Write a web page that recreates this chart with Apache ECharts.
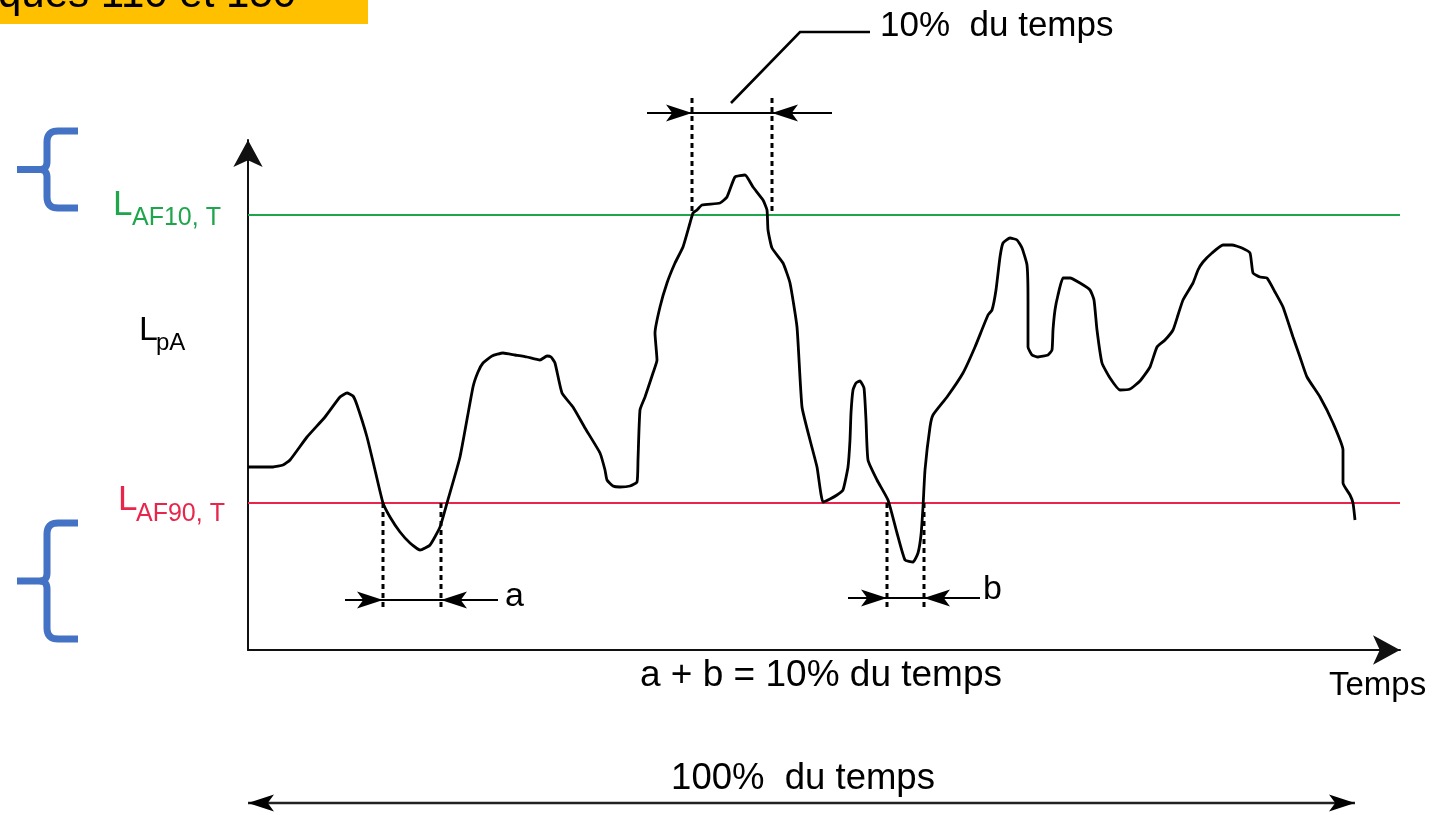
<!DOCTYPE html>
<html><head><meta charset="utf-8">
<script src="https://cdn.jsdelivr.net/npm/echarts@6/dist/echarts.min.js"></script>
<style>html,body{margin:0;padding:0;background:#fff}#c{width:1440px;height:815px}</style>
</head><body><div id="c"></div>
<script>
// ---- data (time in arbitrary units, level LpA in dB) ----
const timeValues = [0,2.5,3.5,4.2,5.9,7.7,9.2,9.9,10.5,10.9,11.9,12.7,13.5,14.2,15.2,16.2,17.2,18.2,19.2,19.9,21.2,22.5,23,23.5,24.4,25.5,26.7,27.9,29.2,29.9,30.3,30.7,31.4,32.5,33.7,35.2,35.7,35.9,36.5,37.2,38.2,38.9,39,39.2,39.7,40.5,40.9,40.7,41.2,41.9,42.7,43.5,44.2,44.5,44.9,45.4,47.2,47.9,48.7,49.7,50.5,51.5,51.9,52,52.4,53.5,54.2,54.9,55.4,56.2,56.9,57.5,58.2,58.9,59.5,60,60.2,60.3,60.5,60.8,61.2,61.6,61.8,62,62.9,64,64.9,65.7,66.5,67,67.3,67.5,67.7,68.2,68.5,69.9,71.5,72.7,74,74.4,74.8,75.2,75.5,76.2,76.9,77.4,77.9,78,78,78.4,79,80,80.4,80.5,80.7,81,81.5,82.2,83.2,84.2,84.6,84.9,85.4,86.2,87.2,88.2,89.2,90.2,90.9,91.7,92.5,93,93.5,94.5,95,95.5,96.4,97.5,98.4,99.4,100.2,100.5,101.2,101.9,102.7,103.5,104.5,105.2,105.9,107.2,108.5,109.5,109.5,110.2,110.5,110.7];
const levelValues = [58.3,58.3,58.5,59,61.3,63.3,65.3,65.7,65.4,64.5,61.3,58,54.7,53.3,51.8,50.7,50,50.5,52.3,54.7,59.3,66.3,67.8,68.7,69.4,69.7,69.5,69.3,69,69.4,69.3,68.7,65.7,64.3,62.2,59.7,58,57,56.4,56.3,56.4,56.8,59,64,65.3,67.7,69,71.7,74.3,76.7,78.7,80.3,82.7,83.7,84,84.5,84.7,85.3,87.3,87.5,86.3,85,84,82,80.2,78.7,76.7,72.3,64.3,61,58.3,54.8,55.1,55.5,56,58.3,61,63.7,66,66.7,66.9,66.2,63,59,57,55,51.7,49,48.8,49.7,51.5,54.3,58,62.3,63.5,65.3,67.7,70.3,73.5,74,76,79.3,80.7,81.2,81,80.2,78.5,75,70.3,69.5,69.3,69.5,70,72,74,75.5,77.2,77.2,76.7,76,75,72,68.7,67.2,66,66.1,66.9,68.3,70.3,71,72,73.5,75,76.7,78,78.8,79.7,80.5,80.5,80.2,79.7,77.7,77.3,77.2,75.8,74.3,71.3,69.3,67.3,65.3,62.7,60,56.7,55.5,54.7,53];
const levelLAF10 = 83.5;   // L_AF10,T
const levelLAF90 = 54.7;   // L_AF90,T
const span10 = [44.4, 52.4];  // 10 % of time above L_AF10
const spanA = [13.5, 19.3];   // a
const spanB = [63.9, 67.6];   // b
const labels = {
  top: 'ques 110 et 150',
  l10: ['L', 'AF10, T'],
  l90: ['L', 'AF90, T'],
  lpa: ['L', 'pA'],
  ten: '10%  du temps',
  sum: 'a + b = 10% du temps',
  xname: 'Temps',
  hundred: '100%  du temps',
  a: 'a', b: 'b'
};

const chart = echarts.init(document.getElementById('c'), null, {renderer: 'canvas'});
const FONT = '"Liberation Sans", Arial, Helvetica, sans-serif';
const GREEN = '#1fa64c', RED = '#e8264c', BLUE = '#4472c4';

chart.setOption({
  animation: false,
  backgroundColor: '#fff',
  grid: {left: 248, right: 40, top: 140, bottom: 165},
  xAxis: {
    type: 'value', min: 0, max: 115.2,
    axisLine: {show: true, onZero: false, symbol: ['none', 'arrow'], symbolSize: [22, 27], lineStyle: {color: '#111', width: 2}},
    axisTick: {show: false}, axisLabel: {show: false}, splitLine: {show: false}
  },
  yAxis: {
    type: 'value', min: 40, max: 91,
    axisLine: {show: true, onZero: false, symbol: ['none', 'arrow'], symbolSize: [22, 27], lineStyle: {color: '#111', width: 2}},
    axisTick: {show: false}, axisLabel: {show: false}, splitLine: {show: false}
  },
  series: [{
    type: 'line',
    data: timeValues.map((t, i) => [t, levelValues[i]]),
    showSymbol: false, smooth: 0.15, silent: true, z: 5,
    lineStyle: {color: '#000', width: 2.8},
    markLine: {
      silent: true, symbol: ['none', 'none'], label: {show: false},
      data: [
        {yAxis: levelLAF10, lineStyle: {color: GREEN, width: 2.2, type: 'solid'}},
        {yAxis: levelLAF90, lineStyle: {color: RED, width: 2.2, type: 'solid'}}
      ]
    }
  }]
});

const P = (x, y) => chart.convertToPixel({gridIndex: 0}, [x, y]);
const G = [];
function seg(a, b, w, dash, color) {
  G.push({type: 'line', silent: true, z: 10, shape: {x1: a[0], y1: a[1], x2: b[0], y2: b[1]},
    style: {stroke: color || '#000', lineWidth: w, lineDash: dash || null, lineCap: 'butt'}});
}
function head(tip, dx, dy, len, hw) {
  const n = Math.hypot(dx, dy); const ux = dx / n, uy = dy / n; const px = -uy, py = ux;
  const bx = tip[0] - ux * len, by = tip[1] - uy * len;
  const nx = tip[0] - ux * len * 0.76, ny = tip[1] - uy * len * 0.76;
  G.push({type: 'polygon', silent: true, z: 11, shape: {points: [tip, [bx + px * hw, by + py * hw], [nx, ny], [bx - px * hw, by - py * hw]]},
    style: {fill: '#000'}});
}
function txt(x, y, s, size, color, align) {
  G.push({type: 'text', silent: true, z: 12, x: x, y: y,
    style: {text: s, fill: color || '#000', font: 'normal ' + size + 'px ' + FONT,
      textAlign: align || 'left', align: align || 'left', textVerticalAlign: 'middle', verticalAlign: 'middle'}});
}
function dimension(span, yLine, tailL, tailR, dashTop, dashBottom) {
  const l = P(span[0], yLine), r = P(span[1], yLine);
  const tl = P(tailL, yLine), tr = P(tailR, yLine);
  seg(tl, tr, 1.8);
  head(l, 1, 0, 26, 8.5);
  head(r, -1, 0, 26, 8.5);
  [span[0], span[1]].forEach(x => seg(P(x, dashTop), P(x, dashBottom), 3, [5, 4]));
}

// top span (10 % above L_AF10)
dimension(span10, 93.7, 39.9, 58.4, 95.2, levelLAF10);
const ld1 = P(48.3, 94.7), ld2 = P(55.2, 101.8), ld3 = P(62.2, 101.8);
G.push({type: 'polyline', silent: true, z: 10, shape: {points: [ld1, ld2, ld3]}, style: {stroke: '#000', lineWidth: 2.6, fill: null}});
txt(ld3[0] + 10, ld3[1] - 6, labels.ten, 35);

// a and b spans
dimension(spanA, 45.0, 9.7, 25.0, levelLAF90, 44.3);
dimension(spanB, 45.2, 60.0, 73.2, levelLAF90, 44.3);
const pa = P(25.0, 45.0), pb = P(73.2, 45.2);
txt(pa[0] + 7, pa[1] - 3, labels.a, 34);
txt(pb[0] + 3, pb[1] - 8, labels.b, 34);

// threshold labels
const g10 = P(0, levelLAF10), r90 = P(0, levelLAF90);
txt(113, g10[1] - 10, labels.l10[0], 35, GREEN);
txt(132, g10[1] + 3, labels.l10[1], 25, GREEN);
txt(118, r90[1] - 3, labels.l90[0], 35, RED);
txt(136, r90[1] + 11, labels.l90[1], 25, RED);
txt(139, 331, labels.lpa[0], 34, '#000');
txt(156, 343, labels.lpa[1], 24, '#000');

// axis texts
txt(821, 676, labels.sum, 37, '#000', 'center');
txt(1329, 686, labels.xname, 33);

// 100 % arrow spanning the whole record
const t0 = P(timeValues[0], 24.7), t1 = P(timeValues[timeValues.length - 1], 24.7);
seg(t0, t1, 2.4, null, '#222');
head(t0, -1, 0, 26, 8.5);
head(t1, 1, 0, 26, 8.5);
txt(803, 779, labels.hundred, 36.5, '#000', 'center');

// blue braces
function quad(p0, p1, p2, n) {
  const out = [];
  for (let i = 0; i <= n; i++) {
    const t = i / n, a = (1 - t) * (1 - t), b = 2 * t * (1 - t), c = t * t;
    out.push([a * p0[0] + b * p1[0] + c * p2[0], a * p0[1] + b * p1[1] + c * p2[1]]);
  }
  return out;
}
function brace(top, bottom) {
  const mid = (top + bottom) / 2;
  const upper = [[78, top], [58, top]].concat(quad([58, top], [47, top], [47, top + 11], 8))
    .concat([[47, mid - 8]]).concat(quad([47, mid - 8], [47, mid], [40, mid], 8)).concat([[17, mid]]);
  const lower = [[40, mid]].concat(quad([40, mid], [47, mid], [47, mid + 8], 8))
    .concat([[47, bottom - 11]]).concat(quad([47, bottom - 11], [47, bottom], [58, bottom], 8)).concat([[78, bottom]]);
  [upper, lower].forEach(pts => G.push({type: 'polyline', silent: true, z: 10, shape: {points: pts},
    style: {stroke: BLUE, lineWidth: 7, fill: null, lineJoin: 'round'}}));
}
brace(131, 208);
brace(523, 639);

// yellow header box (cut at the top)
G.push({type: 'rect', silent: true, z: 1, shape: {x: 0, y: 0, width: 368, height: 24}, style: {fill: '#ffc000'}});
txt(-2, -5, labels.top, 42, '#000');

chart.setOption({graphic: {elements: G}});
</script>
</body></html>
